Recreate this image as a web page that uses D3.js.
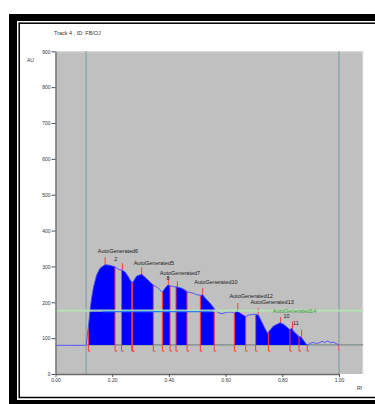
<!DOCTYPE html>
<meta charset="utf-8">
<style>
  body { margin: 0; padding: 0; background: #fff; }
  svg { display: block; font-family: "Liberation Sans", Arial, sans-serif; }
</style>
<script src="https://d3js.org/d3.v7.min.js"></script>
<svg id="vis" width="375" height="404"></svg>
<script>

// densitometer trace (Rf, AU)
const traceRf = [0.000, 0.050, 0.105, 0.108, 0.111, 0.116, 0.122, 0.128, 0.134, 0.145, 0.157, 0.175, 0.192, 0.210,
  0.222, 0.233, 0.245, 0.257, 0.269, 0.274, 0.286, 0.304, 0.321, 0.333, 0.345, 0.360, 0.370, 0.377, 0.386,
  0.396, 0.406, 0.418, 0.427, 0.445, 0.457, 0.466, 0.487, 0.494, 0.506, 0.512, 0.519, 0.527, 0.539, 0.551,
  0.560, 0.568, 0.580, 0.592, 0.604, 0.616, 0.628, 0.631, 0.639, 0.647, 0.659, 0.671, 0.680, 0.692, 0.706,
  0.716, 0.727, 0.739, 0.748, 0.757, 0.769, 0.780, 0.792, 0.804, 0.815, 0.825, 0.833, 0.841, 0.854, 0.859,
  0.864, 0.874, 0.883, 0.888, 0.900, 0.910, 0.920, 0.930, 0.940, 0.950, 0.960, 0.970, 0.980, 0.990, 1.000];
const traceAU = [80, 80, 80, 82, 100, 131, 180, 215, 242, 276, 295, 305, 303, 299,
  292, 290, 285, 271, 255, 257, 273, 278, 266, 257, 248, 241, 234, 228, 239,
  248, 246, 243, 243, 239, 234, 229, 225, 222, 220, 219, 221, 213, 203, 192,
  183, 175, 169, 169, 172, 173, 172, 169, 176, 172, 166, 160, 164, 166, 166,
  164, 146, 127, 113, 123, 134, 138, 143, 139, 132, 124, 127, 118, 109, 104,
  104, 95, 85, 81, 86, 88, 85, 87, 91, 88, 92, 87, 89, 85, 81];

// integrated zones
const fillRanges = [[0.116, 0.210], [0.233, 0.345], [0.377, 0.404], [0.425, 0.464],
  [0.511, 0.560], [0.631, 0.671], [0.706, 0.888]];
const boundaryRf = [0.116, 0.210, 0.233, 0.269, 0.272, 0.345, 0.377, 0.404, 0.425, 0.464, 0.511,
  0.560, 0.631, 0.671, 0.706, 0.751, 0.827, 0.859, 0.888, 1.000];
const peakRf = [0.175, 0.236, 0.304, 0.398, 0.430, 0.519, 0.643, 0.715, 0.794, 0.836, 0.868];
const peakTopAU = [326, 309, 298, 267, 259, 240, 198, 184, 159, 146, 123];

const labelText = ["AutoGenerated6", "2", "AutoGenerated5", "AutoGenerated7", "8", "AutoGenerated10",
  "AutoGenerated12", "AutoGenerated13", "AutoGenerated14", "10", "11"];
const labelRf = [0.2205, 0.213, 0.347, 0.439, 0.397, 0.566, 0.690, 0.764, 0.843, 0.815, 0.848];
const labelAU = [337, 315, 305, 276, 263, 251, 212, 194, 171, 156, 137];

const yTicks = [0, 100, 200, 300, 400, 500, 600, 700, 800, 900];
const xTicks = [0, 0.2, 0.4, 0.6, 0.8, 1.0];
const startFrontRf = [0.108, 1.0];
const baseAU = 81, greenAU = 177, blueAU = 174, blueRange = [0.167, 0.55];
const rfMax = 1.085;

var svg = d3.select("#vis");

var x = d3.scaleLinear().domain([0, 1]).range([55.5, 339]);
var y = d3.scaleLinear().domain([0, 900]).range([374, 51.3]);

// outer frame
svg.append("rect").attr("x", 9).attr("y", 14).attr("width", 400).attr("height", 7).attr("fill", "#000");
svg.append("rect").attr("x", 9).attr("y", 14).attr("width", 8).attr("height", 400).attr("fill", "#000");
svg.append("rect").attr("x", 9).attr("y", 400).attr("width", 400).attr("height", 10).attr("fill", "#000");
svg.append("rect").attr("x", 19.2).attr("y", 23.2).attr("width", 400).attr("height", 374.3)
  .attr("fill", "none").attr("stroke", "#000").attr("stroke-width", 1.5);

// plot background
svg.append("rect")
  .attr("x", x(0)).attr("y", y(900))
  .attr("width", x(rfMax) - x(0)).attr("height", y(0) - y(900))
  .attr("fill", "#c0c0c0");
svg.append("path")
  .attr("d", "M" + x(0) + "," + (y(900) + 0.5) + "H" + (x(rfMax) - 0.5) + "V" + y(0))
  .attr("fill", "none").attr("stroke", "#dadada").attr("stroke-width", 1);

// start / front lines
svg.selectAll(".front").data(startFrontRf).enter().append("line")
  .attr("x1", d => x(d)).attr("x2", d => x(d))
  .attr("y1", y(900)).attr("y2", y(0))
  .attr("stroke", "#8fa9a9").attr("stroke-width", 1.5);

// baseline
svg.append("line")
  .attr("x1", x(0.108)).attr("x2", x(rfMax))
  .attr("y1", y(baseAU)).attr("y2", y(baseAU))
  .attr("stroke", "#7c8a8a").attr("stroke-width", 1.2);

var trace = traceRf.map((d, i) => [d, traceAU[i]]);

// peak markers
svg.selectAll(".peak").data(peakRf).enter().append("line")
  .attr("x1", d => x(d)).attr("x2", d => x(d))
  .attr("y1", (d, i) => y(peakTopAU[i])).attr("y2", y(baseAU))
  .attr("stroke", "#ff3b3b").attr("stroke-width", 1);

// area under the trace, used as clip
svg.append("clipPath").attr("id", "under")
  .append("path")
  .attr("d", d3.area().x(d => x(d[0])).y0(y(60)).y1(d => y(d[1]))(trace));

var zones = svg.append("g").attr("clip-path", "url(#under)");
zones.selectAll("rect").data(fillRanges).enter().append("rect")
  .attr("x", d => x(d[0])).attr("width", d => x(d[1]) - x(d[0]))
  .attr("y", y(900)).attr("height", y(baseAU) - y(900))
  .attr("fill", "#0000ff");
zones.selectAll("line").data(boundaryRf).enter().append("line")
  .attr("x1", d => x(d)).attr("x2", d => x(d))
  .attr("y1", y(900)).attr("y2", y(64))
  .attr("stroke", "#ff3b3b").attr("stroke-width", 1);

// little feet under each boundary
svg.selectAll(".foot").data(boundaryRf.slice(0, -1)).enter().append("line")
  .attr("x1", d => x(d)).attr("x2", d => x(d) + 2)
  .attr("y1", y(64)).attr("y2", y(64))
  .attr("stroke", "#ff3b3b").attr("stroke-width", 1);

// trace
svg.append("path")
  .datum(trace)
  .attr("d", d3.line().x(d => x(d[0])).y(d => y(d[1])))
  .attr("fill", "none").attr("stroke", "#4a4aff").attr("stroke-width", 0.9);

// horizontal reference lines
svg.append("line")
  .attr("x1", x(0)).attr("x2", x(rfMax))
  .attr("y1", y(greenAU)).attr("y2", y(greenAU))
  .attr("stroke", "#b4e4b4").attr("stroke-opacity", 0.85).attr("stroke-width", 2.2);
svg.append("line")
  .attr("x1", x(blueRange[0])).attr("x2", x(blueRange[1]))
  .attr("y1", y(blueAU)).attr("y2", y(blueAU))
  .attr("stroke", "#2a7cff").attr("stroke-width", 1.3);

// axes
var yAxis = svg.append("g")
  .attr("transform", "translate(" + x(0) + ",0)")
  .call(d3.axisLeft(y).tickValues(yTicks).tickSize(4).tickSizeOuter(0).tickPadding(1).tickFormat(d3.format("d")));
var xAxis = svg.append("g")
  .attr("transform", "translate(0," + y(0) + ")")
  .call(d3.axisBottom(x).tickValues(xTicks).tickSize(3).tickSizeOuter(0).tickPadding(1).tickFormat(d3.format(".2f")));
[yAxis, xAxis].forEach(function(a) {
  a.select(".domain").attr("stroke", "#6a6a6a").attr("stroke-width", 1.3);
  a.selectAll(".tick line").attr("stroke", "#555");
  a.selectAll("text").attr("fill", "#333").style("font-size", "5px").style("font-family", "Liberation Sans, Arial, sans-serif");
});
yAxis.selectAll("text").attr("dy", "0.35em");

// titles
svg.append("text").attr("x", 54).attr("y", 34.5).attr("fill", "#333")
  .style("font-size", "5.5px").text("Track 4 , ID: FB/OJ");
svg.append("text").attr("x", 27).attr("y", 61.5).attr("fill", "#333")
  .style("font-size", "5px").text("AU");
svg.append("text").attr("x", 357).attr("y", 389.5).attr("fill", "#333")
  .style("font-size", "5px").text("Rf");

// peak labels
svg.selectAll(".lbl").data(labelText).enter().append("text")
  .attr("x", (d, i) => x(labelRf[i])).attr("y", (d, i) => y(labelAU[i]))
  .attr("text-anchor", "middle")
  .attr("fill", d => d == "AutoGenerated14" ? "#3f9a3f" : "#222")
  .style("font-size", "5.5px")
  .text(d => d);

</script>
